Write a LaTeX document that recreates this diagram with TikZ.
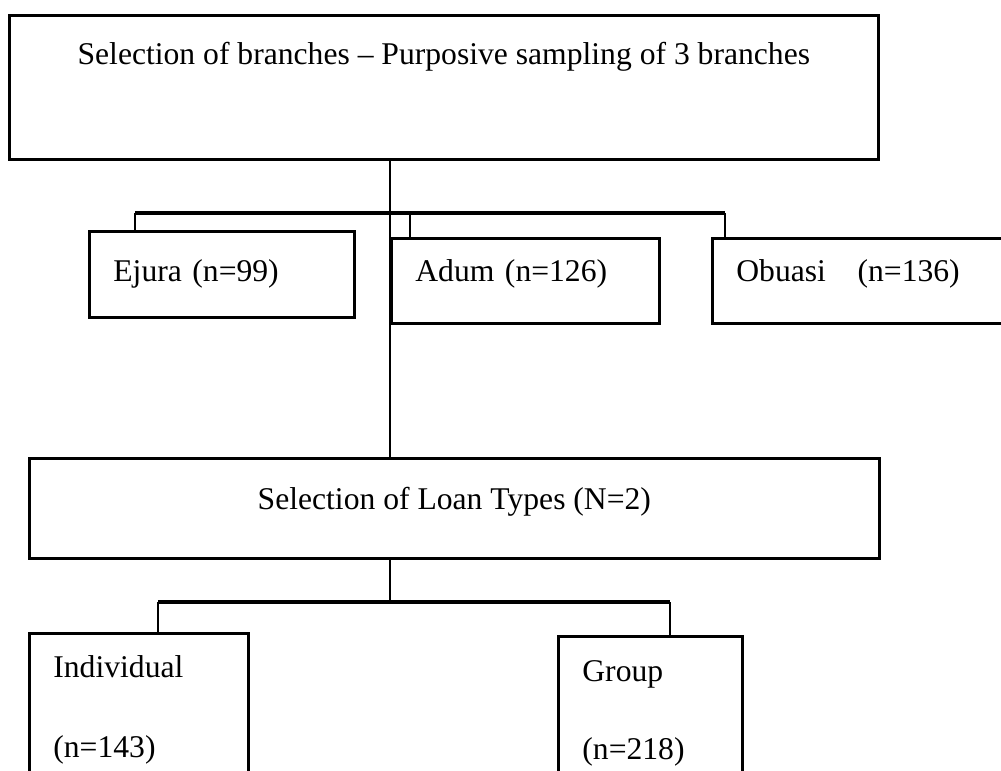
\documentclass[tikz,border=0pt]{standalone}
\usepackage{fontspec}
\setmainfont{Liberation Serif}
\begin{document}
\begin{tikzpicture}[x=0.02cm, y=-0.02cm, font=\fontsize{18}{22}\selectfont,
  stage/.style={draw, line width=1.6pt, anchor=north west, inner ysep=0pt},
  branch/.style={stage, align=left, inner xsep=0.48cm},
  link/.style={line width=0.8pt},
  bar/.style={line width=2pt}]
\useasboundingbox (0,0) rectangle (1001,771);
\clip (0,0) rectangle (1001,771);
% stages
\node[stage, minimum width=17.38cm, text height=0.98cm, text depth=1.9cm] (sel) at (8,14)
  {Selection of branches -- Purposive sampling of 3 branches};
\foreach \nm/\x/\y/\w/\h/\d/\txt in {ejura/88/230/4.34/1.0/0.72/{Ejura (n=99)},
    adum/390/237/4.4/0.86/0.84/{Adum (n=126)}, obuasi/711/237/5.04/0.86/0.84/{Obuasi\quad(n=136)}}
  \node[branch, text width=\w cm, text height=\h cm, text depth=\d cm] (\nm) at (\x,\y) {\txt};
\node[stage, minimum width=17cm, text height=1.02cm, text depth=0.98cm] (loan) at (28,457)
  {Selection of Loan Types (N=2)};
\node[branch, text width=3.42cm, text height=0.88cm, text depth=2.48cm] (indiv) at (28,632)
  {Individual\\[0.82cm](n=143)};
\node[branch, text width=2.72cm, text height=0.9cm, text depth=2.4cm] (group) at (557,635)
  {Group\\[0.78cm](n=218)};
% connectors
\coordinate (tl) at (135,213);
\coordinate (tm) at (410,213);
\coordinate (tr) at (725,213);
\coordinate (bl) at (158,602);
\coordinate (br) at (670,602);
\draw[link] (sel.south -| adum.west) -- (loan.north -| adum.west);
\draw[bar] (tl) -- (tr);
\foreach \c/\nm in {tl/ejura, tm/adum, tr/obuasi} \draw[link] (\c) -- (\c |- \nm.north);
\draw[link] (loan.south -| adum.west) -- (bl -| adum.west);
\draw[bar] (bl) -- (br);
\foreach \c/\nm in {bl/indiv, br/group} \draw[link] (\c) -- (\c |- \nm.north);
\end{tikzpicture}
\end{document}
